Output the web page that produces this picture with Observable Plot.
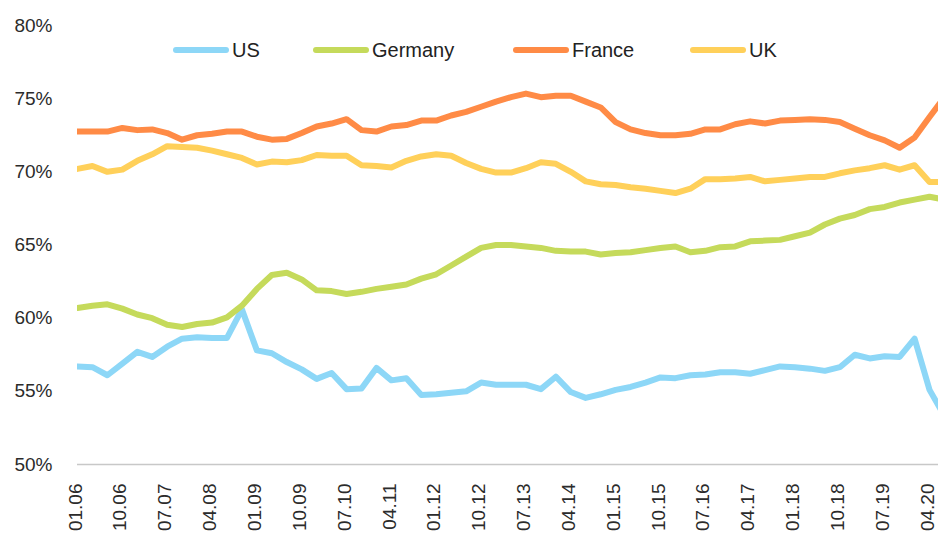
<!DOCTYPE html>
<html><head><meta charset="utf-8">
<script src="https://cdn.jsdelivr.net/npm/d3@7"></script>
<script src="https://cdn.jsdelivr.net/npm/@observablehq/plot@0.6"></script>
<style>
body{margin:0;background:#fff;}
#wrap{position:relative;width:938px;height:533px;}
.leg{position:absolute;top:38px;height:24px;display:flex;align-items:center;font:20px "Liberation Sans",sans-serif;color:#222;white-space:nowrap}
.sw{width:56px;height:6px;border-radius:3px;margin-right:3px}
</style></head>
<body>
<div id="wrap"></div>
<script>
const names = ["US","Germany","France","UK"];
const colors = ["#8dd7f7","#c5da5b","#ff8b46","#ffd05a"];
const tickLabels = ["01.06","10.06","07.07","04.08","01.09","10.09","07.10","04.11","01.12","10.12","07.13","04.14","01.15","10.15","07.16","04.17","01.18","10.18","07.19","04.20"];
const yTicks = [50,55,60,65,70,75,80];

const US = [56.7,56.65,56.1,56.9,57.7,57.35,58.05,58.6,58.7,58.65,58.65,60.6,57.8,57.6,57.0,56.5,55.85,56.25,55.15,55.2,56.6,55.75,55.9,54.75,54.8,54.9,55.0,55.6,55.45,55.45,55.45,55.15,56.0,54.95,54.55,54.8,55.1,55.3,55.6,55.95,55.9,56.1,56.15,56.3,56.3,56.2,56.45,56.7,56.65,56.55,56.4,56.65,57.5,57.25,57.4,57.35,58.6,55.1,53.3];
const Germany = [60.7,60.85,60.95,60.65,60.25,60.0,59.55,59.4,59.6,59.7,60.05,60.85,62.0,62.95,63.1,62.65,61.9,61.85,61.65,61.8,62.0,62.15,62.3,62.7,63.0,63.6,64.2,64.8,65.0,65.0,64.9,64.8,64.6,64.55,64.55,64.35,64.45,64.5,64.65,64.8,64.9,64.5,64.6,64.85,64.9,65.25,65.3,65.35,65.6,65.85,66.4,66.8,67.05,67.45,67.6,67.9,68.1,68.3,68.1];
const France = [72.75,72.75,72.75,73.0,72.85,72.9,72.65,72.2,72.5,72.6,72.75,72.75,72.4,72.2,72.25,72.65,73.1,73.3,73.6,72.85,72.75,73.1,73.2,73.5,73.5,73.85,74.1,74.45,74.8,75.1,75.35,75.1,75.2,75.2,74.8,74.4,73.4,72.9,72.65,72.5,72.5,72.6,72.9,72.9,73.25,73.45,73.3,73.5,73.55,73.6,73.55,73.4,72.95,72.5,72.15,71.65,72.35,73.75,75.1];
const UK = [70.2,70.4,70.0,70.15,70.75,71.2,71.75,71.7,71.65,71.45,71.2,70.95,70.5,70.7,70.65,70.8,71.15,71.1,71.1,70.45,70.4,70.3,70.75,71.05,71.2,71.1,70.6,70.2,69.95,69.95,70.25,70.65,70.55,70.0,69.35,69.15,69.1,68.95,68.85,68.7,68.55,68.85,69.5,69.5,69.55,69.65,69.35,69.45,69.55,69.65,69.65,69.9,70.1,70.25,70.45,70.15,70.45,69.3,69.3];

const seriesVals = [US, Germany, France, UK];
const data = names.flatMap((n, k) => seriesVals[k].map((v, i) => ({name: n, i, v})));
const tickIdx = tickLabels.map((_, j) => j * 3);

const chart = Plot.plot({
  width: 938, height: 533,
  marginLeft: 77, marginRight: 0, marginTop: 25, marginBottom: 69,
  style: {fontFamily: "Liberation Sans, sans-serif", fontSize: "19px", color: "#2b2b2b", background: "#fff"},
  x: {type: "linear", domain: [0, 57.6], label: null},
  y: {domain: [50, 80], label: null},
  color: {domain: names, range: colors},
  marks: [
    Plot.ruleY([50], {stroke: "#c8c8c8", strokeWidth: 1.5}),
    Plot.axisY({ticks: yTicks, tickFormat: d => d + "%", tickSize: 0, tickPadding: 25, fontSize: 19}),
    Plot.axisX({ticks: tickIdx, tickFormat: i => tickLabels[Math.round(i / 3)], tickRotate: -90, tickSize: 0, tickPadding: 19, fontSize: 19, dx: -2}),
    Plot.line(data, {x: "i", y: "v", stroke: "name", z: "name", strokeWidth: 6, strokeLinejoin: "round", clip: true})
  ]
});
const wrap = document.getElementById("wrap");
wrap.appendChild(chart);

const legX = [173, 313, 513, 690];
names.forEach((n, k) => {
  const d = document.createElement("div");
  d.className = "leg";
  d.style.left = legX[k] + "px";
  d.innerHTML = `<span class="sw" style="background:${colors[k]}"></span><span>${n}</span>`;
  wrap.appendChild(d);
});
</script>
</body></html>
